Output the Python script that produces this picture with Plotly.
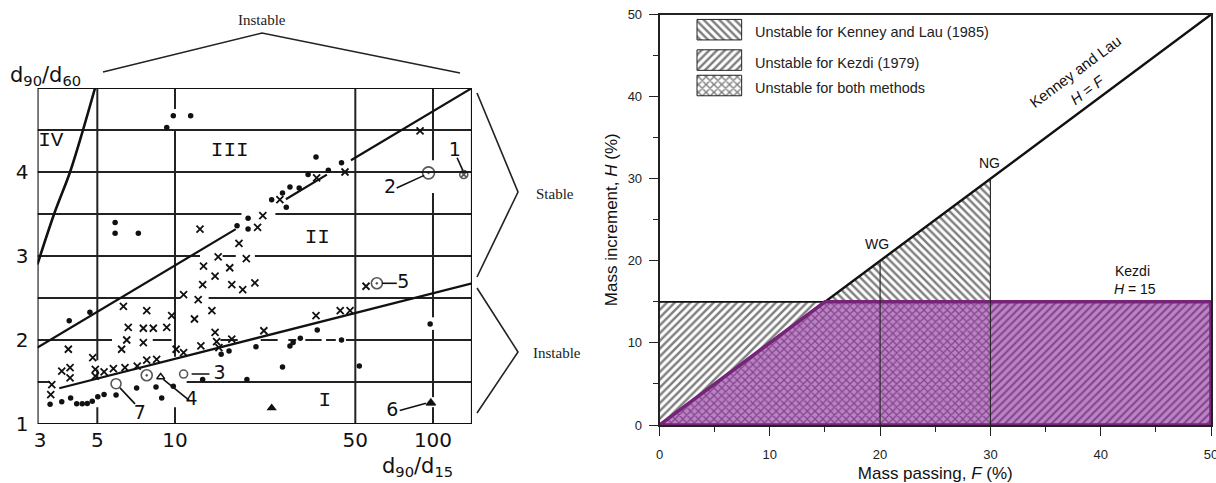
import numpy as np
import plotly.graph_objects as go

# ================= LEFT CHART (d90/d15 vs d90/d60) =================
# scatter points
dot_x = [3.28, 3.64, 3.94, 4.16, 4.37, 4.57, 4.78, 5.02, 5.31, 5.91, 7.10, 8.44, 8.88, 9.85,
         12.8, 19.0, 15.1, 16.2, 3.89, 4.68, 20.6, 27.9, 28.7, 30.6, 35.6, 44.2, 26.1, 51.8,
         97.5, 5.86, 5.86, 7.21, 17.4, 19.2, 19.2, 9.85, 11.5, 9.29, 35.2, 39.3, 32.8, 44.2,
         27.9, 30.3, 26.1, 23.7, 27.0]
dot_y = [1.235, 1.265, 1.31, 1.24, 1.24, 1.245, 1.27, 1.325, 1.35, 1.345, 1.43, 1.44, 1.31, 1.45,
         1.53, 1.53, 1.83, 1.87, 2.23, 2.33, 1.92, 1.93, 1.97, 2.02, 2.12, 2.0, 1.68, 1.69,
         2.19, 3.40, 3.27, 3.27, 3.36, 3.45, 3.32, 4.67, 4.67, 4.53, 4.18, 4.02, 3.97, 4.11,
         3.82, 3.81, 3.75, 3.67, 3.58]
cross_x = [3.33, 3.30, 3.64, 3.92, 3.92, 3.86, 4.80, 4.91, 4.91, 5.31, 5.77, 6.40, 7.14, 7.77,
           8.49, 6.21, 6.50, 7.54, 6.59, 7.54, 8.24, 9.29, 7.77, 6.31, 9.71, 11.9, 13.9, 10.8,
           12.3, 12.9, 12.8, 14.3, 16.3, 16.6, 18.3, 20.4, 14.7, 18.9, 14.3, 10.1, 10.8, 12.6,
           14.5, 16.6, 14.8, 22.1, 35.2, 43.7, 47.7, 55.0, 12.5, 17.7, 89.1, 35.4, 45.6, 25.5,
           21.9, 20.9]
cross_y = [1.47, 1.35, 1.63, 1.67, 1.55, 1.89, 1.79, 1.65, 1.57, 1.62, 1.66, 1.67, 1.69, 1.76,
           1.77, 1.89, 2.0, 1.97, 2.15, 2.14, 2.14, 2.15, 2.35, 2.40, 2.29, 2.25, 2.35, 2.54,
           2.48, 2.88, 2.66, 2.76, 2.86, 2.66, 2.60, 2.68, 2.99, 2.97, 2.09, 1.89, 1.85, 1.93,
           1.98, 2.01, 1.91, 2.11, 2.29, 2.35, 2.35, 2.64, 3.32, 3.15, 4.49, 3.93, 4.0, 3.67,
           3.48, 3.34]
tri_x = [23.7, 98.1]
tri_y = [1.19, 1.25]

# numbered specimens 1..7
spec_labels = ["1", "2", "3", "4", "5", "6", "7"]
spec_x = [131.6, 96.1, 10.8, 7.77, 60.6, 98.1, 5.91]
spec_y = [3.97, 3.99, 1.595, 1.58, 2.675, 1.25, 1.48]
spec_symbol = ["circle-x-open", "circle-open-dot", "circle-open", "circle-open-dot",
               "circle-open-dot", "triangle-up", "circle-open"]
spec_size = [8, 12, 8, 11, 11, 8, 10]
label_x = [121.6, 68.1, 14.9, 11.6, 76.7, 69.6, 7.3]
label_y = [4.25, 3.81, 1.595, 1.28, 2.68, 1.155, 1.12]
leader_x0 = [124.0, 72.3, 11.6, 9.01, 63.4, 74.3, 6.12]
leader_y0 = [4.17, 3.81, 1.595, 1.53, 2.675, 1.16, 1.43]
leader_x1 = [130.5, 92.4, 13.6, 11.36, 72.4, 93.9, 7.0]
leader_y1 = [4.02, 3.96, 1.595, 1.28, 2.675, 1.246, 1.24]
extra_open_tri_x = [8.8]
extra_open_tri_y = [1.56]

# zone labels
zone_text = ["IV", "III", "II", "I"]
zone_x = [3.30, 16.3, 35.6, 38.1]
zone_y = [4.37, 4.25, 3.22, 1.28]

# axis ticks
lx_ticks = [3, 5, 10, 50, 100]
ly_ticks = [1, 2, 3, 4]

LOG_XMIN, LOG_XMAX = 0.4671, 2.1512
XMIN, XMAX = 10 ** LOG_XMIN, 10 ** LOG_XMAX
YMIN, YMAX = 1.0, 5.0

# boundary lines
iv_x = [2.93, 3.40, 3.92, 4.40, 4.90]
iv_y = [2.9, 3.5, 4.0, 4.5, 5.0]
upper_ends_x = [XMIN, XMAX]
upper_ends_y = [1.91, 5.0]
upper_gaps = [(17.2, 26.9), (38.8, 48.1)]
lower_ends_x = [3.56, XMAX]
lower_ends_y = [1.425, 2.675]

# hand-drawn grid (with gaps as in the scan)
hgrid = {
    4.5: [(XMIN, XMAX)],
    4.0: [(XMIN, XMAX)],
    3.5: [(XMIN, 18.1), (24.5, XMAX)],
    3.0: [(XMIN, 12.5), (15.3, 17.2), (20.4, XMAX)],
    2.5: [(XMIN, 10.5), (13.5, XMAX)],
    2.0: [(XMIN, 5.7), (8.2, 9.7), (15.0, 17.5), (21.5, 25.0), (27.5, 29.5), (32, 37),
          (38.5, 42), (46, XMAX)],
    1.5: [(XMIN, 3.27), (11.1, XMAX)],
}
vgrid = {
    5: [(1.76, 5.0), (1.54, 1.65), (1.0, 1.2)],
    10: [(4.75, 5.0), (1.8, 4.5), (1.0, 1.2)],
    50: [(1.0, 5.0)],
    100: [(4.14, 5.0), (2.27, 3.75), (1.32, 2.12), (1.0, 1.2)],
}

# ================= RIGHT CHART (Kenney & Lau vs Kezdi) =================
F_MAX = 50
KEZDI_H = 15
WG_F = 20
NG_F = 30
r_ticks = [0, 10, 20, 30, 40, 50]

HAND = "DejaVu Sans"
SERIF = "Liberation Serif"
SANS = "Liberation Sans, Arial"
PURPLE_FILL = "rgb(188,130,198)"
PURPLE_HATCH = "rgb(72,12,76)"
PURPLE_EDGE = "rgb(118,36,120)"
HATCH_SIZE = 5.5
HATCH_SOLID = 0.45

fig = go.Figure()


def seg_trace(xs, ys, width=2, color="#111", xa="x", ya="y", shape="linear"):
    return go.Scatter(x=xs, y=ys, mode="lines", xaxis=xa, yaxis=ya, hoverinfo="skip",
                      line=dict(color=color, width=width, shape=shape), showlegend=False)


# ---- left: grid ----
gx, gy = [], []
for yv, segs in hgrid.items():
    for a, b in segs:
        gx += [a, b, None]
        gy += [yv, yv, None]
for xv, segs in vgrid.items():
    for a, b in segs:
        gx += [xv, xv, None]
        gy += [a, b, None]
fig.add_trace(seg_trace(gx, gy, width=2, color="#222"))

# frame
fig.add_trace(seg_trace([XMIN, XMAX, XMAX, XMIN, XMIN], [YMIN, YMIN, YMAX, YMAX, YMIN],
                        width=2.2, color="#111"))

# upper boundary line with gaps
lu0, lu1 = np.log10(upper_ends_x[0]), np.log10(upper_ends_x[1])


def upper_y(x):
    return upper_ends_y[0] + (np.log10(x) - lu0) / (lu1 - lu0) * (upper_ends_y[1] - upper_ends_y[0])


ux, uy = [], []
bounds = [upper_ends_x[0]]
for a, b in upper_gaps:
    bounds += [a, b]
bounds.append(upper_ends_x[1])
for i in range(0, len(bounds), 2):
    ux += [bounds[i], bounds[i + 1], None]
    uy += [upper_y(bounds[i]), upper_y(bounds[i + 1]), None]
fig.add_trace(seg_trace(ux, uy, width=2.2))
fig.add_trace(seg_trace(lower_ends_x, lower_ends_y, width=2.2))
fig.add_trace(seg_trace(iv_x, iv_y, width=2.6, shape="spline"))

# leaders
lx, ly = [], []
for i in range(len(leader_x0)):
    lx += [leader_x0[i], leader_x1[i], None]
    ly += [leader_y0[i], leader_y1[i], None]
fig.add_trace(seg_trace(lx, ly, width=1.6))

# points
fig.add_trace(go.Scatter(x=dot_x, y=dot_y, mode="markers", showlegend=False, hoverinfo="skip",
                         marker=dict(symbol="circle", size=5.5, color="#111")))
fig.add_trace(go.Scatter(x=cross_x, y=cross_y, mode="markers", showlegend=False, hoverinfo="skip",
                         marker=dict(symbol="x-thin-open", size=7, color="#111",
                                     line=dict(width=1.8, color="#111"))))
fig.add_trace(go.Scatter(x=tri_x, y=tri_y, mode="markers", showlegend=False, hoverinfo="skip",
                         marker=dict(symbol="triangle-up", size=9, color="#111")))
fig.add_trace(go.Scatter(x=spec_x, y=spec_y, mode="markers", showlegend=False, hoverinfo="skip",
                         marker=dict(symbol=spec_symbol, size=spec_size, color="#111",
                                     line=dict(width=1.6, color="#111"))))
fig.add_trace(go.Scatter(x=extra_open_tri_x, y=extra_open_tri_y, mode="markers", showlegend=False,
                         hoverinfo="skip",
                         marker=dict(symbol="triangle-up-open", size=7, color="#111",
                                     line=dict(width=1.4, color="#111"))))
fig.add_trace(go.Scatter(x=label_x, y=label_y, mode="text", text=spec_labels, showlegend=False,
                         hoverinfo="skip", textfont=dict(family=HAND, size=19, color="#111")))
fig.add_trace(go.Scatter(x=zone_x, y=zone_y, mode="text", text=zone_text, showlegend=False,
                         hoverinfo="skip",
                         textfont=dict(family="Liberation Mono", size=21, color="#111")))

# ---- right chart ----
RX, RY = "x2", "y2"


def hatch(shape, fg, bg, solid=HATCH_SOLID):
    return dict(shape=shape, size=HATCH_SIZE, solidity=solid, fgcolor=fg, bgcolor=bg)


# black hatched regions
fig.add_trace(go.Scatter(x=[0, 0, KEZDI_H, 0], y=[0, KEZDI_H, KEZDI_H, 0], xaxis=RX, yaxis=RY,
                         mode="none", fill="toself", fillcolor="white", showlegend=False,
                         hoverinfo="skip", fillpattern=hatch("/", "#000", "white")))
fig.add_trace(go.Scatter(x=[KEZDI_H, NG_F, NG_F, KEZDI_H], y=[KEZDI_H, NG_F, KEZDI_H, KEZDI_H],
                         xaxis=RX, yaxis=RY, mode="none", fill="toself", fillcolor="white",
                         showlegend=False, hoverinfo="skip",
                         fillpattern=hatch("\\", "#000", "white")))
# black lines
fig.add_trace(seg_trace([0, F_MAX], [0, F_MAX], width=2.4, xa=RX, ya=RY))
fig.add_trace(seg_trace([0, KEZDI_H], [KEZDI_H, KEZDI_H], width=1.8, xa=RX, ya=RY))
# purple regions
fig.add_trace(go.Scatter(x=[0, KEZDI_H, NG_F, NG_F, 0], y=[0, KEZDI_H, KEZDI_H, 0, 0],
                         xaxis=RX, yaxis=RY, mode="none", fill="toself", fillcolor=PURPLE_FILL,
                         showlegend=False, hoverinfo="skip",
                         fillpattern=hatch("x", PURPLE_HATCH, PURPLE_FILL, 0.4)))
fig.add_trace(go.Scatter(x=[NG_F, NG_F, F_MAX, F_MAX, NG_F], y=[0, KEZDI_H, KEZDI_H, 0, 0],
                         xaxis=RX, yaxis=RY, mode="none", fill="toself", fillcolor=PURPLE_FILL,
                         showlegend=False, hoverinfo="skip",
                         fillpattern=hatch("/", PURPLE_HATCH, PURPLE_FILL, 0.4)))
fig.add_trace(seg_trace([0, KEZDI_H, F_MAX, F_MAX, 0, 0], [0, KEZDI_H, KEZDI_H, 0, 0, 0],
                        width=3.5, color=PURPLE_EDGE, xa=RX, ya=RY))
# WG / NG verticals
fig.add_trace(seg_trace([WG_F, WG_F, None, NG_F, NG_F], [0, WG_F, None, 0, NG_F], width=1.1,
                        color="#222", xa=RX, ya=RY))

# legend patches
leg_y0 = [46.9, 43.2, 40.1]
leg_y1 = [49.4, 45.7, 42.6]
leg_shape = ["\\", "/", "x"]
leg_text = ["Unstable for Kenney and Lau (1985)", "Unstable for Kezdi (1979)",
            "Unstable for both methods"]
leg_x0, leg_x1 = 3.4, 7.45
for y0, y1, shp, txt in zip(leg_y0, leg_y1, leg_shape, leg_text):
    fig.add_trace(go.Scatter(x=[leg_x0, leg_x1, leg_x1, leg_x0, leg_x0], y=[y0, y0, y1, y1, y0],
                             xaxis=RX, yaxis=RY, mode="lines", fill="toself", fillcolor="white",
                             line=dict(color="#222", width=1), showlegend=False, hoverinfo="skip",
                             fillpattern=hatch(shp, "#000", "white")))
    fig.add_annotation(x=8.5, y=(y0 + y1) / 2 - 0.3, xref=RX, yref=RY, text=txt, showarrow=False,
                       xanchor="left", font=dict(family=SANS, size=14.5, color="#222"))

r_ann = [
    dict(x=37.7, y=43.0, text="Kenney and Lau", textangle=-36.7, size=15),
    dict(x=38.8, y=40.9, text="<i>H</i> = <i>F</i>", textangle=-36.7, size=15),
    dict(x=29.9, y=31.9, text="NG", textangle=0, size=14),
    dict(x=19.7, y=22.0, text="WG", textangle=0, size=14),
    dict(x=42.9, y=18.7, text="Kezdi", textangle=0, size=14),
    dict(x=43.1, y=16.6, text="<i>H</i> = 15", textangle=0, size=14),
]
for a in r_ann:
    fig.add_annotation(x=a["x"], y=a["y"], xref=RX, yref=RY, text=a["text"], showarrow=False,
                       textangle=a["textangle"], font=dict(family=SANS, size=a["size"], color="#111"))

# ---- left chart decorations (paper coords) ----
W, H = 1216, 483


def P(px, py):
    return px / W, 1 - py / H


deco = [
    [(103, 72), (262, 33), (460, 73)],
    [(477, 93), (518, 192), (477, 277)],
    [(477, 288), (518, 352), (477, 413)],
]
for pts in deco:
    xs = [P(*p)[0] for p in pts]
    ys = [P(*p)[1] for p in pts]
    path = "M " + " L ".join(f"{x},{y}" for x, y in zip(xs, ys))
    fig.add_shape(type="path", path=path, xref="paper", yref="paper",
                  line=dict(color="#222", width=1.6))

for txt, (px, py), sz in [("Instable", (262, 20), 15), ("Stable", (555, 194), 15),
                          ("Instable", (557, 353), 15)]:
    x, y = P(px, py)
    fig.add_annotation(x=x, y=y, xref="paper", yref="paper", text=txt, showarrow=False,
                       xanchor="center", yanchor="middle",
                       font=dict(family=SERIF, size=sz, color="#222"))
x, y = P(8, 76)
fig.add_annotation(x=x, y=y, xref="paper", yref="paper", text="d<sub>90</sub>/d<sub>60</sub>",
                   showarrow=False, xanchor="left", yanchor="middle",
                   font=dict(family=HAND, size=21, color="#111"))
x, y = P(417, 467)
fig.add_annotation(x=x, y=y, xref="paper", yref="paper", text="d<sub>90</sub>/d<sub>15</sub>",
                   showarrow=False, xanchor="center", yanchor="middle",
                   font=dict(family=HAND, size=21, color="#111"))

fig.update_layout(
    width=W, height=H, margin=dict(l=0, r=0, t=0, b=0, autoexpand=False),
    paper_bgcolor="white", plot_bgcolor="white", showlegend=False,
    xaxis=dict(type="log", range=[LOG_XMIN, LOG_XMAX], domain=[37.5 / W, 472 / W],
               showgrid=False, zeroline=False, showline=False, ticks="", automargin=False,
               tickvals=lx_ticks, ticktext=[str(v) for v in lx_ticks], ticklabelstandoff=2,
               tickfont=dict(family=HAND, size=20, color="#111"), fixedrange=True),
    yaxis=dict(range=[YMIN, YMAX], domain=[(H - 424) / H, (H - 88) / H], automargin=False,
               showgrid=False, zeroline=False, showline=False, ticks="",
               tickvals=ly_ticks, ticklabelstandoff=8,
               tickfont=dict(family=HAND, size=20, color="#111"), fixedrange=True),
    xaxis2=dict(range=[0, F_MAX], domain=[659.5 / W, 1211 / W], anchor="y2", automargin=False,
                showgrid=False, zeroline=False, showline=True, linecolor="#222", linewidth=1.6,
                mirror=True, ticks="outside", ticklen=9, tickwidth=1.3, tickcolor="#222",
                tickvals=r_ticks, minor=dict(tickvals=[5, 15, 25, 35, 45], ticks="outside",
                                             ticklen=5, tickwidth=1.2, tickcolor="#222"),
                ticklabelstandoff=8, ticklabeloverflow="allow",
                tickfont=dict(family=SANS, size=13, color="#222"),
                title=dict(text="Mass passing, <i>F</i> (%)", standoff=6,
                           font=dict(family=SANS, size=17, color="#111"))),
    yaxis2=dict(range=[0, F_MAX], domain=[(H - 425) / H, (H - 14.5) / H], anchor="x2",
                automargin=False,
                showgrid=False, zeroline=False, showline=True, linecolor="#222", linewidth=1.6,
                mirror=True, ticks="outside", ticklen=9, tickwidth=1.3, tickcolor="#222",
                tickvals=r_ticks, minor=dict(tickvals=[5, 15, 25, 35, 45], ticks="outside",
                                             ticklen=5, tickwidth=1.2, tickcolor="#222"),
                ticklabelstandoff=4, ticklabeloverflow="allow",
                tickfont=dict(family=SANS, size=13, color="#222"),
                title=dict(text="Mass increment, <i>H</i> (%)", standoff=6,
                           font=dict(family=SANS, size=17, color="#111"))),
)

fig.write_html("out.html", config={"displayModeBar": False},
               post_script="document.body.style.margin='0';document.body.style.overflow='hidden';")
